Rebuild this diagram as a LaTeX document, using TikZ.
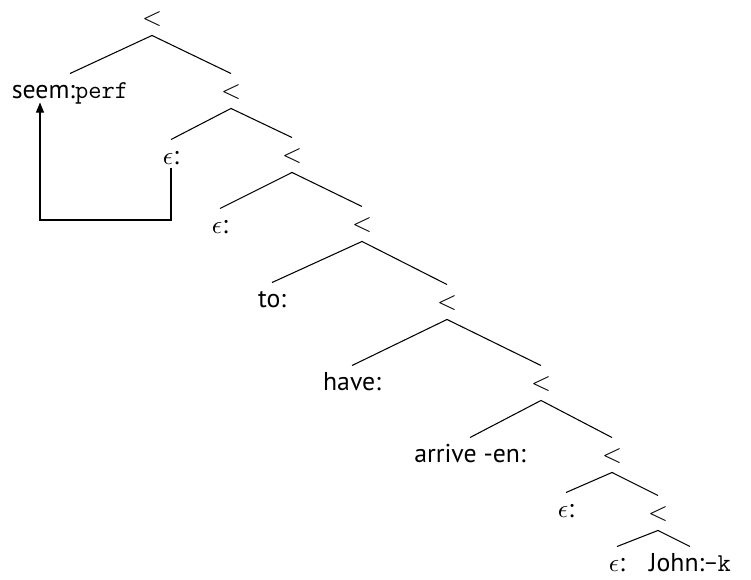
\documentclass[tikz,border=0pt]{standalone}
\usepackage{fontspec}
\setmainfont{PT Sans}
\usetikzlibrary{arrows.meta}

\begin{document}
\begin{tikzpicture}[x=0.015cm,y=-0.015cm,
    nd/.style={inner sep=0pt,minimum height=0.51cm,text height=1.5ex,text depth=0.25ex,
               font=\fontsize{11}{13}\selectfont},
    ramo/.style={line width=0.45pt}]

  \useasboundingbox (0,0) rectangle (751,580);

  % ---------- nos da arvore ----------
  \node[nd] (r0)   at (152,18)  {$<$};
  \node[nd] (seem) at (70,91)   {seem:\texttt{perf}};
  \node[nd] (r1)   at (231,91)  {$<$};
  \node[nd] (e1)   at (171,157) {$\epsilon$:};
  \node[nd] (r2)   at (292,155) {$<$};
  \node[nd] (e2)   at (220,226) {$\epsilon$:};
  \node[nd] (r3)   at (362,224) {$<$};
  \node[nd] (to)   at (272,300) {to:};
  \node[nd] (r4)   at (447,302) {$<$};
  \node[nd] (have) at (352,383) {have:};
  \node[nd] (r5)   at (541,383) {$<$};
  \node[nd] (arr)  at (470,455) {arrive -en:};
  \node[nd] (r6)   at (612,455) {$<$};
  \node[nd] (e3)   at (566,510) {$\epsilon$:};
  \node[nd] (r7)   at (658,513) {$<$};
  \node[nd] (e4)   at (617,564) {$\epsilon$:};
  \node[nd] (john) at (690,564) {John:\texttt{-k}};

  % ---------- ramos ----------
  \foreach \p/\a/\b in {r0/seem/r1, r1/e1/r2, r2/e2/r3, r3/to/r4,
                        r4/have/r5, r5/arr/r6, r6/e3/r7, r7/e4/john} {
    \draw[ramo] (\p.south) -- (\a.north);
    \draw[ramo] (\p.south) -- (\b.north);
  }

  % ---------- movimento ----------
  \coordinate (volta) at (40,220);
  \draw[ramo,-{Triangle[length=4.3pt,width=3.4pt]}]
    ([yshift=0.1cm]e1.south) |- (volta) -- ([yshift=0.09cm]volta |- seem.south);

\end{tikzpicture}
\end{document}
